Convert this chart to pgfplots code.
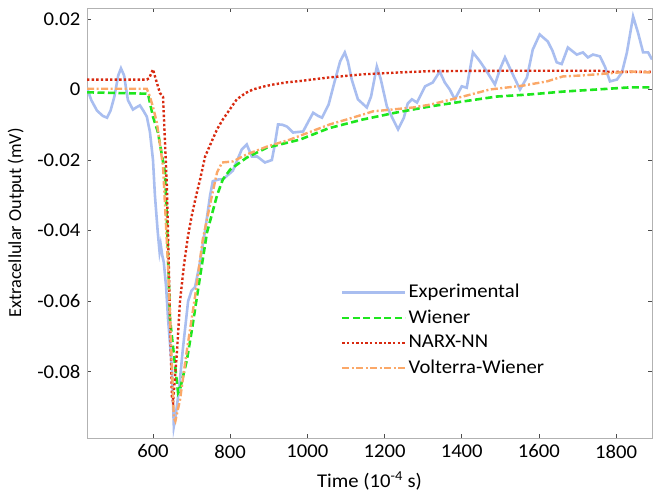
\documentclass[border=0pt]{standalone}
\usepackage{fontspec}
\setmainfont{Carlito}[FakeStretch=1.06]
\newfontfamily\ylabfont{Carlito}
\usepackage{pgfplots}
\pgfplotsset{compat=1.18}
\definecolor{cexp}{HTML}{A9BEF0}
\definecolor{cwie}{HTML}{1EE61E}
\definecolor{cnarx}{HTML}{D82A10}
\definecolor{cvol}{HTML}{FBA868}
\begin{document}
\fontsize{19.5bp}{23bp}\selectfont
\begin{tikzpicture}
\useasboundingbox (0,0) rectangle (663bp,504bp);
\begin{axis}[
  at={(87bp,66bp)}, anchor=south west,
  width=565bp, height=430bp, scale only axis,
  xmin=429, xmax=1893, ymin=-0.0988, ymax=0.0231,
  scaled y ticks=false, scaled x ticks=false,
  xtick={600,800,1000,1200,1400,1600,1800},
  ytick={-0.08,-0.06,-0.04,-0.02,0,0.02},
  yticklabels={-0.08,-0.06,-0.04,-0.02,0,0.02},
  tick align=inside, major tick length=4bp,
  tick style={color=black!70, line width=0.6bp},
  axis line style={color=black!30, line width=1bp},
  xlabel={Time (10\textsuperscript{-4} s)},
  ylabel={Extracellular Output (mV)},
  ylabel style={font=\ylabfont\fontsize{18.3bp}{22bp}\selectfont},
  /pgf/number format/assume math mode=true,
  /pgf/number format/1000 sep={},
  legend cell align=left,
  legend style={at={(rel axis cs:0.444,0.367)}, anchor=north west, draw=none, fill=none,
    row sep=5bp, font=\fontsize{19.5bp}{23bp}\selectfont},
  legend image code/.code={\draw[#1] (0bp,0bp) -- (63bp,0bp);},
]
\addplot[cexp, line width=2.6bp] coordinates {
(429,0.0005)(440,-0.003)(455,-0.006)(470,-0.0075)(481,-0.008)(490,-0.006)(500,-0.002)(510,0.004)(517,0.006)(525,0.004)(535,-0.003)(548,-0.0057)(558,-0.005)(566,-0.0045)(575,-0.006)(584,-0.0077)(592,-0.012)(600,-0.020)(605,-0.030)(612,-0.040)(617,-0.046)(620,-0.044)(624,-0.047)(628,-0.049)(634,-0.056)(639,-0.065)(649,-0.079)(654,-0.0955)(658,-0.093)(664,-0.088)(670,-0.082)(677,-0.074)(683,-0.068)(691,-0.060)(700,-0.057)(709,-0.056)(720,-0.050)(735,-0.040)(748,-0.030)(755,-0.026)(770,-0.0255)(781,-0.0255)(807,-0.023)(830,-0.017)(843,-0.0156)(856,-0.019)(870,-0.019)(890,-0.0207)(908,-0.020)(915,-0.016)(924,-0.0099)(935,-0.0100)(947,-0.0105)(963,-0.0122)(989,-0.0119)(1003,-0.009)(1015,-0.0066)(1028,-0.0075)(1038,-0.008)(1055,-0.0043)(1070,0.002)(1085,0.008)(1097,0.0105)(1105,0.008)(1115,0.0028)(1131,-0.0028)(1154,-0.0051)(1165,-0.002)(1180,0.0065)(1190,0.003)(1206,-0.0048)(1220,-0.008)(1235,-0.0113)(1250,-0.008)(1260,-0.004)(1271,-0.0028)(1284,-0.0037)(1305,0.0009)(1325,0.002)(1343,0.0051)(1356,0.002)(1369,0.0)(1382,-0.0028)(1400,0.0009)(1413,0.0005)(1429,0.0105)(1447,0.008)(1465,0.0051)(1486,0.0014)(1500,0.006)(1512,0.0091)(1530,0.0048)(1551,0.0)(1569,0.0034)(1584,0.0113)(1602,0.0156)(1623,0.0136)(1635,0.011)(1646,0.0077)(1659,0.0072)(1675,0.0119)(1698,0.0099)(1714,0.0105)(1727,0.0091)(1740,0.0099)(1758,0.0094)(1771,0.0065)(1784,0.0023)(1802,0.0028)(1815,0.0048)(1828,0.0105)(1844,0.0207)(1857,0.016)(1870,0.0105)(1883,0.0105)(1893,0.0085)
};
\addlegendentry{Experimental}
\addplot[cwie, line width=2.6bp, dash pattern=on 7bp off 3.5bp] coordinates {
(429,-0.0008)(587,-0.0012)(600,-0.0077)(613,-0.0122)(631,-0.0236)(636,-0.037)(644,-0.065)(657,-0.078)(665,-0.086)(670,-0.085)(688,-0.0766)(701,-0.068)(722,-0.053)(740,-0.0405)(766,-0.030)(781,-0.0255)(800,-0.0227)(843,-0.0193)(895,-0.0165)(981,-0.0142)(1055,-0.011)(1144,-0.0085)(1232,-0.0065)(1318,-0.0048)(1403,-0.0034)(1491,-0.002)(1577,-0.0014)(1662,-0.0006)(1750,0.0)(1836,0.0006)(1893,0.0006)
};
\addlegendentry{Wiener}
\addplot[cnarx, line width=2.4bp, dash pattern=on 2.4bp off 2.2bp] coordinates {
(429,0.0028)(584,0.0028)(590,0.0032)(600,0.0057)(607,0.003)(618,-0.001)(626,-0.002)(636,-0.0275)(649,-0.087)(652,-0.0885)(662,-0.0746)(670,-0.060)(680,-0.050)(690,-0.042)(700,-0.036)(712,-0.030)(722,-0.0255)(735,-0.019)(755,-0.014)(766,-0.0113)(781,-0.0085)(800,-0.0055)(817,-0.0028)(840,-0.001)(859,0.0)(885,0.0008)(911,0.0014)(945,0.002)(981,0.0024)(1055,0.0034)(1144,0.0043)(1232,0.0048)(1318,0.0052)(1500,0.0053)(1760,0.0053)(1780,0.005)(1893,0.005)
};
\addlegendentry{NARX-NN}
\addplot[cvol, line width=2.4bp, dash pattern=on 7bp off 2.5bp on 2bp off 2.5bp] coordinates {
(429,0.0002)(584,0.0002)(592,-0.002)(600,-0.005)(610,-0.0094)(626,-0.0218)(639,-0.050)(649,-0.0786)(654,-0.093)(658,-0.094)(670,-0.088)(688,-0.0738)(709,-0.0587)(729,-0.0425)(753,-0.030)(766,-0.0235)(779,-0.0207)(807,-0.0204)(843,-0.0184)(895,-0.0162)(955,-0.0142)(1058,-0.0099)(1102,-0.0085)(1144,-0.0071)(1170,-0.0062)(1274,-0.0051)(1318,-0.0043)(1403,-0.002)(1473,0.0)(1559,0.0011)(1621,0.0023)(1662,0.0037)(1714,0.004)(1750,0.0043)(1836,0.0051)(1893,0.0048)
};
\addlegendentry{Volterra-Wiener}
\end{axis}
\end{tikzpicture}
\end{document}
